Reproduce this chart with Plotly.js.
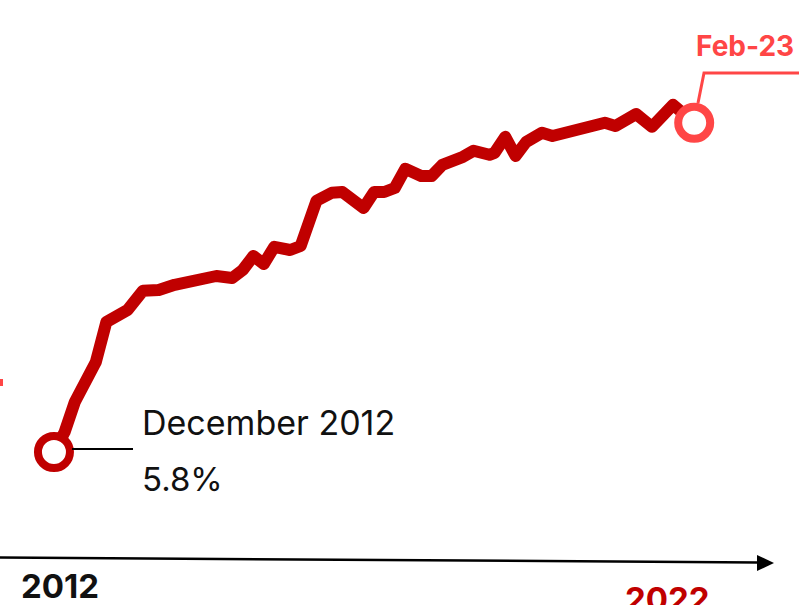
<!DOCTYPE html>
<html>
<head>
<meta charset="utf-8">
<script src="https://cdn.plot.ly/plotly-3.0.1.min.js"></script>
<style>
html,body{margin:0;padding:0;background:#fff;}
#chart{width:799px;height:605px;}
.scatterlayer path.js-line{stroke-linejoin:round !important;stroke-linecap:round !important;}
</style>
</head>
<body>
<div id="chart"></div>
<script>
// ---- data ----
const months = ['2012-12','2013-02','2013-04','2013-08','2013-10','2014-02','2014-05','2014-08','2014-11',
  '2015-02','2015-04','2015-07','2015-10','2015-12','2016-02','2016-04','2016-06','2016-09','2016-11',
  '2017-02','2017-05','2017-07','2017-11','2018-01','2018-03','2018-05','2018-07','2018-10','2018-12',
  '2019-02','2019-06','2019-08','2019-11','2019-12','2020-02','2020-04','2020-06','2020-09','2020-11',
  '2021-01','2021-03','2021-09','2021-11','2022-03','2022-06','2022-10','2023-02'];
const values = [5.80,6.30,7.05,8.05,9.05,9.35,9.83,9.85,9.98,
  10.05,10.15,10.20,10.15,10.35,10.70,10.50,10.93,10.85,10.95,
  12.08,12.28,12.30,11.90,12.30,12.30,12.40,12.88,12.70,12.70,
  12.98,13.18,13.33,13.23,13.28,13.68,13.20,13.55,13.78,13.70,
  13.78,13.85,14.03,13.95,14.25,13.93,14.48,14.03];
const startLabel = 'December 2012';
const startValueLabel = '5.8%';
const endLabel = 'Feb-23';
const axisStartLabel = '2012';
const axisEndLabel = '2022';

// ---- helpers ----
const W = 799, H = 605;
const px = x => x / W;
const py = y => 1 - y / H;
const DARK = '#C00000', LIGHT = '#FF4646';
const FONT = 'Inter, "Noto Sans", sans-serif';

const n = months.length;
const traces = [
  {x: months, y: values, type: 'scatter', mode: 'lines',
   line: {color: DARK, width: 12}, hoverinfo: 'skip'},
  {x: [months[0]], y: [values[0]], type: 'scatter', mode: 'markers',
   marker: {size: 32, color: '#ffffff', line: {color: DARK, width: 8}}, hoverinfo: 'skip'},
  {x: [months[n-1]], y: [values[n-1]], type: 'scatter', mode: 'markers',
   marker: {size: 32, color: '#ffffff', line: {color: LIGHT, width: 8}}, hoverinfo: 'skip'}
];

const shapes = [
  // baseline axis arrow
  {type: 'line', xref: 'paper', yref: 'paper', x0: px(0), y0: py(557.5), x1: px(758), y1: py(562.5),
   line: {color: '#000', width: 2.5}},
  {type: 'path', xref: 'paper', yref: 'paper',
   path: `M ${px(774)} ${py(563)} L ${px(757)} ${py(555)} L ${px(757)} ${py(571)} Z`,
   fillcolor: '#000', line: {width: 0}},
  // connector to start label
  {type: 'line', xref: 'paper', yref: 'paper', x0: px(72), y0: py(449), x1: px(133), y1: py(449),
   line: {color: '#000', width: 2}},
  // connector to end label
  {type: 'path', xref: 'paper', yref: 'paper',
   path: `M ${px(698)} ${py(103)} L ${px(704)} ${py(73)} L ${px(800)} ${py(73)}`,
   line: {color: LIGHT, width: 3}},
  // small cut-off mark at left
  {type: 'rect', xref: 'paper', yref: 'paper', x0: px(0), y0: py(379), x1: px(3), y1: py(386),
   fillcolor: LIGHT, line: {width: 0}}
];

const ann = (text, x, y, size, color, bold) => ({
  text: bold ? '<b>' + text + '</b>' : text, xref: 'paper', yref: 'paper',
  x: px(x), y: py(y), xanchor: 'left', yanchor: 'middle', showarrow: false,
  font: {family: FONT, size: size, color: color}
});

const annotations = [
  ann(startLabel, 140, 422, 34, '#111', false),
  ann(startValueLabel, 140, 479, 33, '#111', false),
  ann(endLabel, 694, 46, 28, LIGHT, true),
  ann(axisStartLabel, 19, 586, 33, '#111', true),
  ann(axisEndLabel, 623, 599, 33, DARK, true)
];

const layout = {
  width: W, height: H,
  margin: {l: 0, r: 0, t: 0, b: 0, pad: 0},
  paper_bgcolor: '#fff', plot_bgcolor: '#fff',
  showlegend: false,
  xaxis: {type: 'date', range: ['2012-01-23', '2024-10-01'], visible: false, fixedrange: true},
  yaxis: {range: [1.975, 17.1], visible: false, fixedrange: true},
  shapes: shapes,
  annotations: annotations
};

Plotly.newPlot('chart', traces, layout, {displayModeBar: false, staticPlot: true});
</script>
</body>
</html>
